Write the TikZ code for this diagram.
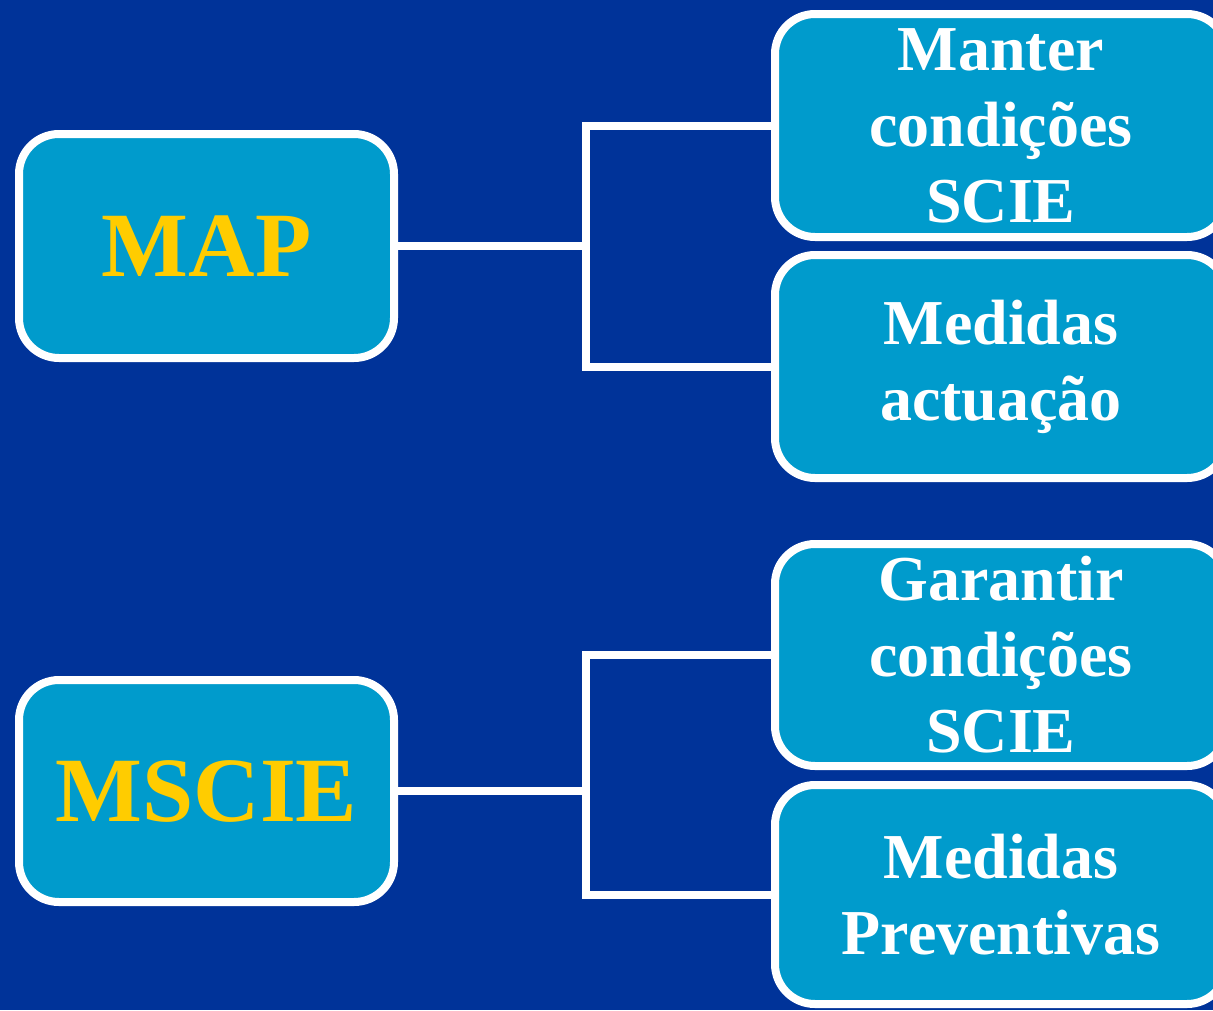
\documentclass[tikz,border=0pt]{standalone}
\usepackage{fontspec}
\setmainfont{Liberation Serif}
\definecolor{bgblue}{RGB}{0,51,153}
\definecolor{boxblue}{RGB}{0,155,204}
\definecolor{gold}{RGB}{255,204,0}
\tikzset{
  mainbox/.style={draw=white, line width=8pt, fill=boxblue, rounded corners=40pt,
    minimum width=375pt, minimum height=224pt, inner sep=0pt,
    text=gold, font=\fontsize{92}{100}\selectfont\bfseries},
  subbox/.style={draw=white, line width=8pt, fill=boxblue, rounded corners=40pt,
    minimum width=452pt, minimum height=223pt, inner sep=0pt, align=center,
    text=white, font=\fontsize{64}{76}\selectfont\bfseries},
  conn/.style={draw=white, line width=8pt}
}
\begin{document}
\begin{tikzpicture}[x=1pt,y=-1pt]
\useasboundingbox (0,0) rectangle (1213,1010);
\clip (0,0) rectangle (1213,1010);
\fill[bgblue] (0,0) rectangle (1213,1010);
% left boxes
\node[mainbox] (map) at (206.5,246) {MAP};
\node[mainbox, minimum height=222pt] (mscie) at (206.5,791) {MSCIE};
% right boxes
\node[subbox] (b1) at (1001,125.5) {Manter\\condições\\SCIE};
\node[subbox] (b2) at (1001,366.5) {Medidas\\actuação};
\node[subbox, minimum height=222pt] (b3) at (1001,655) {Garantir\\condições\\SCIE};
\node[subbox, minimum height=219pt] (b4) at (1001,894.5) {Medidas\\Preventivas};
% junctions
\coordinate (j1) at (586,246);
\coordinate (j2) at (586,791);
\draw[conn] (map.east) -- (j1);
\draw[conn] (b1.west) -- (586,125.5) -- (586,366.5) -- (b2.west);
\draw[conn] (mscie.east) -- (j2);
\draw[conn] (b3.west) -- (586,655) -- (586,894.5) -- (b4.west);
\end{tikzpicture}
\end{document}
